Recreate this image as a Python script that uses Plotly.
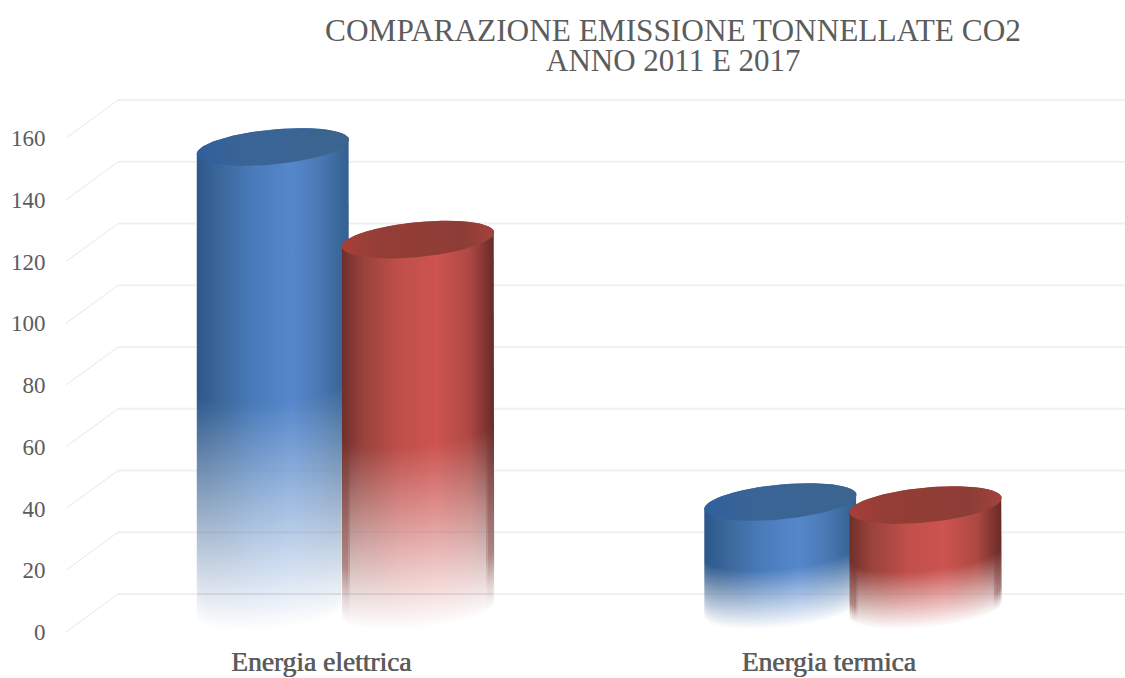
import numpy as np
import plotly.graph_objects as go

categories = ["Energia elettrica", "Energia termica"]
values_2011 = [150, 35]
values_2017 = [120, 34]
y_ticks = [0, 20, 40, 60, 80, 100, 120, 140, 160]

# chart-box geometry, in axis units
DEPTH_X, DEPTH_Y = 0.1025, 12.3      # floor depth of the 3-D box
BASE = 7.1                           # cylinder centre above the front edge
RX, TILT, RY = 0.150, 2.27, 5.67     # ellipse of a cylinder
OFFSET = 0.143
XR = [-0.5507, 1.536]
YR = [-2.6, 176.2]
LABEL_SHIFT = -0.048
GRID = "#f0f0f0"
DIAG = "#e6e6e6"
TEXT = "#5c5c5c"
FONT = "Liberation Serif"

W, H = 1125, 678
L, R, T, B = 66, 0, 88, 38
PLOT_W = W - L - R
PX = (XR[1] - XR[0]) / PLOT_W        # axis units per screen pixel
UNIT_Y = (YR[1] - YR[0]) / (H - T - B)

STYLE = {
    "2011": dict(body=[[0, "#2c578a"], [0.14, "#3a6699"], [0.38, "#4a7cbb"], [0.62, "#5587cb"],
                       [0.8, "#4a79b4"], [1, "#33608f"]],
                 top=[[0, "#2f5f9c"], [0.3, "#3a6496"], [1, "#3c6490"]], edge=0.0),
    "2017": dict(body=[[0, "#6f2f2b"], [0.14, "#99423c"], [0.38, "#c04f4a"], [0.62, "#cd5450"],
                       [0.84, "#ad4843"], [1, "#672a27"]],
                 top=[[0, "#a83e39"], [0.25, "#933e37"], [0.8, "#8e3d36"], [1, "#a3423d"]], edge=1.0),
}
VEIL_POS = [0, 0.12, 0.3, 1]
VEIL_MID = [0.99, 0.87, 0.69, 0]
VEIL_EDGE = [0.99, 0.80, 0.42, 0]

fig = go.Figure()


def add_line(xs, ys, color, width):
    fig.add_trace(go.Scatter(x=xs, y=ys, mode="lines", line=dict(color=color, width=width),
                             hoverinfo="skip", showlegend=False))


def add_fill(xs, ys, gradient, kind="horizontal", **extra):
    fig.add_trace(go.Scatter(x=xs, y=ys, mode="lines", fill="toself", line=dict(width=0),
                             fillgradient=dict(type=kind, colorscale=gradient, **extra),
                             hoverinfo="skip", showlegend=False))


def ell(cx, level, t):
    return cx + RX * np.cos(t), level + TILT * np.cos(t) - RY * np.sin(t)


def front_drop(cx, x):
    c = np.clip((x - cx) / RX, -1, 1)
    return TILT * c - RY * np.sqrt(1 - c * c)


def veil(mix):
    return [[p, f"rgba(255,255,255,{m + (e - m) * mix:.3f})"]
            for p, m, e in zip(VEIL_POS, VEIL_MID, VEIL_EDGE)]


for g in y_ticks:
    add_line([XR[0], XR[0] + DEPTH_X], [g, g + DEPTH_Y], DIAG, 1)
    add_line([XR[0] + DEPTH_X, XR[1]], [g + DEPTH_Y, g + DEPTH_Y], GRID, 2)


def cylinder(cx, value, style):
    low = np.linspace(np.pi, 0, 60)
    up = np.linspace(0, -np.pi, 60)
    level = BASE + value
    bx, by = ell(cx, BASE, low)
    tx, ty = ell(cx, level, up)
    add_fill(np.r_[bx, tx], np.r_[by, ty], style["body"])
    full = np.linspace(0, 2 * np.pi, 120)
    ex, ey = ell(cx, level, full)
    add_fill(ex, ey, style["top"])

    # reflection fade: pixel-aligned strips of white veil, each following the front curve
    fade = 0.47 * value + 2.5
    left_px = (cx - RX - XR[0]) / PX
    right_px = (cx + RX - XR[0]) / PX
    inner = np.arange(np.ceil(left_px), right_px, 2)
    edges_px = np.r_[np.floor(left_px), inner, np.ceil(right_px)]
    edges = edges_px * PX + XR[0]
    pad = 2 * UNIT_Y
    for k in range(len(edges) - 1):
        x0, x1 = edges[k], edges[k + 1]
        if x1 - x0 < 1e-9:
            continue
        d0, d1 = front_drop(cx, x0), front_drop(cx, x1)
        mid = (d0 + d1) / 2
        dist = min((edges_px[k] + edges_px[k + 1]) / 2 - left_px,
                   right_px - (edges_px[k] + edges_px[k + 1]) / 2)
        mix = style["edge"] * np.clip((9 - dist) / 3, 0, 1)
        add_fill([x0, x1, x1, x0],
                 [BASE + d0 - pad, BASE + d1 - pad, BASE + d1 + fade, BASE + d0 + fade],
                 veil(mix), kind="vertical", start=BASE + mid, stop=BASE + mid + fade)

    # grid seen faintly through the faded part
    for g in y_ticks:
        yy = g + DEPTH_Y
        frac = (yy - (BASE - RY)) / fade
        if 0 < frac < 1:
            add_line([cx - RX, cx + RX], [yy, yy], f"rgba(120,125,140,{(1 - frac) * 0.28:.3f})", 1.5)


for i in range(len(categories)):
    cylinder(i - OFFSET, values_2011[i], STYLE["2011"])
    cylinder(i + OFFSET, values_2017[i], STYLE["2017"])

fig.update_layout(
    width=W, height=H,
    margin=dict(l=L, r=R, t=T, b=B, autoexpand=False),
    paper_bgcolor="white", plot_bgcolor="white",
    showlegend=False,
    title=dict(text="COMPARAZIONE EMISSIONE TONNELLATE CO2",
               x=673 / W, xanchor="center", y=1 - 30 / H, yanchor="middle", automargin=False,
               font=dict(family=FONT, size=31.3, color=TEXT)),
    annotations=[dict(text="ANNO 2011 E 2017", xref="paper", yref="paper",
                      x=(673 - L) / PLOT_W, y=1 + (T - 61) / (H - T - B),
                      xanchor="center", yanchor="middle", showarrow=False,
                      font=dict(family=FONT, size=31, color=TEXT))],
    xaxis=dict(range=XR, showgrid=False, zeroline=False, showline=False, automargin=False,
               tickmode="array", tickvals=[i + LABEL_SHIFT for i in range(len(categories))],
               ticktext=categories, ticks="", ticklabelstandoff=2,
               tickfont=dict(family=FONT, size=27.5, color=TEXT, shadow="0.7px 0 0 #595959")),
    yaxis=dict(range=YR, showgrid=False, zeroline=False, showline=False, automargin=False,
               tickmode="array", tickvals=y_ticks, ticktext=[str(v) for v in y_ticks],
               ticks="outside", ticklen=15, tickcolor="rgba(0,0,0,0)",
               tickfont=dict(family=FONT, size=23, color=TEXT)),
)
fig.write_html("out.html", config={"displayModeBar": False},
               post_script="document.body.style.margin='0';")
